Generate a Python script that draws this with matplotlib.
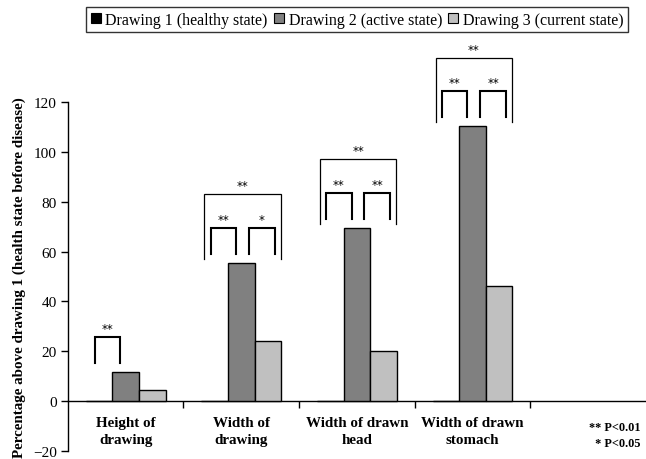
import matplotlib
matplotlib.use("Agg")
import matplotlib.pyplot as plt
from matplotlib.patches import Patch

plt.rcParams["font.family"] = ["Liberation Serif", "DejaVu Serif"]

categories = ["Height of\ndrawing", "Width of\ndrawing", "Width of drawn\nhead", "Width of drawn\nstomach", ""]
drawing1 = [0, 0, 0, 0]
drawing2 = [11.8, 55.5, 69.6, 110.3]
drawing3 = [4.3, 24.1, 20.2, 46.3]
series_names = ["Drawing 1 (healthy state)", "Drawing 2 (active state)", "Drawing 3 (current state)"]
series_colors = ["#000000", "#808080", "#c0c0c0"]

# significance labels per category: drawing 1 vs 2, 2 vs 3, 1 vs 3
sig_12 = ["**", "**", "**", "**"]
sig_23 = [None, "*", "**", "**"]
sig_13 = [None, "**", "**", "**"]

yticks = [-20, 0, 20, 40, 60, 80, 100, 120]

BAR_W = 0.23


def bracket(ax, x1, x2, y_top, y_bot, label, lw):
    ax.plot([x1, x1, x2, x2], [y_bot, y_top, y_top, y_bot], color="black",
            lw=lw, solid_joinstyle="miter", clip_on=False)
    ax.text((x1 + x2) / 2, y_top + 0.8, label, ha="center", va="bottom",
            fontsize=8.5, family="DejaVu Sans", clip_on=False)


fig = plt.figure(figsize=(6.46, 4.6), dpi=100)
ax = fig.add_axes([0.105, 0.0174, 0.895, 0.7586])

xs = list(range(len(drawing2)))
for offset, values, color in zip((-BAR_W, 0, BAR_W), (drawing1, drawing2, drawing3), series_colors):
    ax.bar([x + offset for x in xs], values, width=BAR_W, color=color,
           edgecolor="black", linewidth=1.0, zorder=3)

for i, x in enumerate(xs):
    top = max(drawing1[i], drawing2[i], drawing3[i])
    if sig_12[i]:
        bracket(ax, x - 0.265, x - 0.045, top + 14, top + 3.5, sig_12[i], 1.5)
    if sig_23[i]:
        bracket(ax, x + 0.065, x + 0.29, top + 14, top + 3.5, sig_23[i], 1.5)
    if sig_13[i]:
        bracket(ax, x - 0.32, x + 0.34, top + 27.5, top + 1.5, sig_13[i], 0.9)

ax.set_xlim(-0.5, 4.5)
ax.set_ylim(-20, 120)
ax.set_yticks(yticks)
ax.tick_params(axis="y", direction="out", length=5, width=1, labelsize=11, pad=3)

ax.spines["top"].set_visible(False)
ax.spines["right"].set_visible(False)
ax.spines["bottom"].set_position(("data", 0))
for side in ("left", "bottom"):
    ax.spines[side].set_linewidth(1.0)

ax.set_xticks(range(len(categories)))
ax.set_xticklabels(categories, fontsize=10.8, fontweight="bold", linespacing=1.35)
ax.set_xticks([0.5, 1.5, 2.5, 3.5], minor=True)
ax.tick_params(axis="x", which="major", length=0, pad=11)
ax.tick_params(axis="x", which="minor", direction="out", length=5, width=1)

ax.text(0.99, -7.8, "** P<0.01\n * P<0.05", transform=ax.get_yaxis_transform(),
        ha="right", va="top", fontsize=8.8, fontweight="bold", linespacing=1.5)

ax.set_ylabel("Percentage above drawing 1 (health state before disease)",
              fontsize=10.8, fontweight="bold", labelpad=5)

handles = [Patch(facecolor=c, edgecolor="black", linewidth=0.8) for c in series_colors]
leg = fig.legend(handles, series_names, loc="center", bbox_to_anchor=(0.553, 0.955),
                 ncol=3, fontsize=11.5, frameon=True, fancybox=False, edgecolor="black",
                 handlelength=0.6, handleheight=0.6, handletextpad=0.3,
                 columnspacing=0.4, borderpad=0.3, borderaxespad=0)
leg.get_frame().set_linewidth(1.0)

fig.savefig("out.png", dpi=100)
